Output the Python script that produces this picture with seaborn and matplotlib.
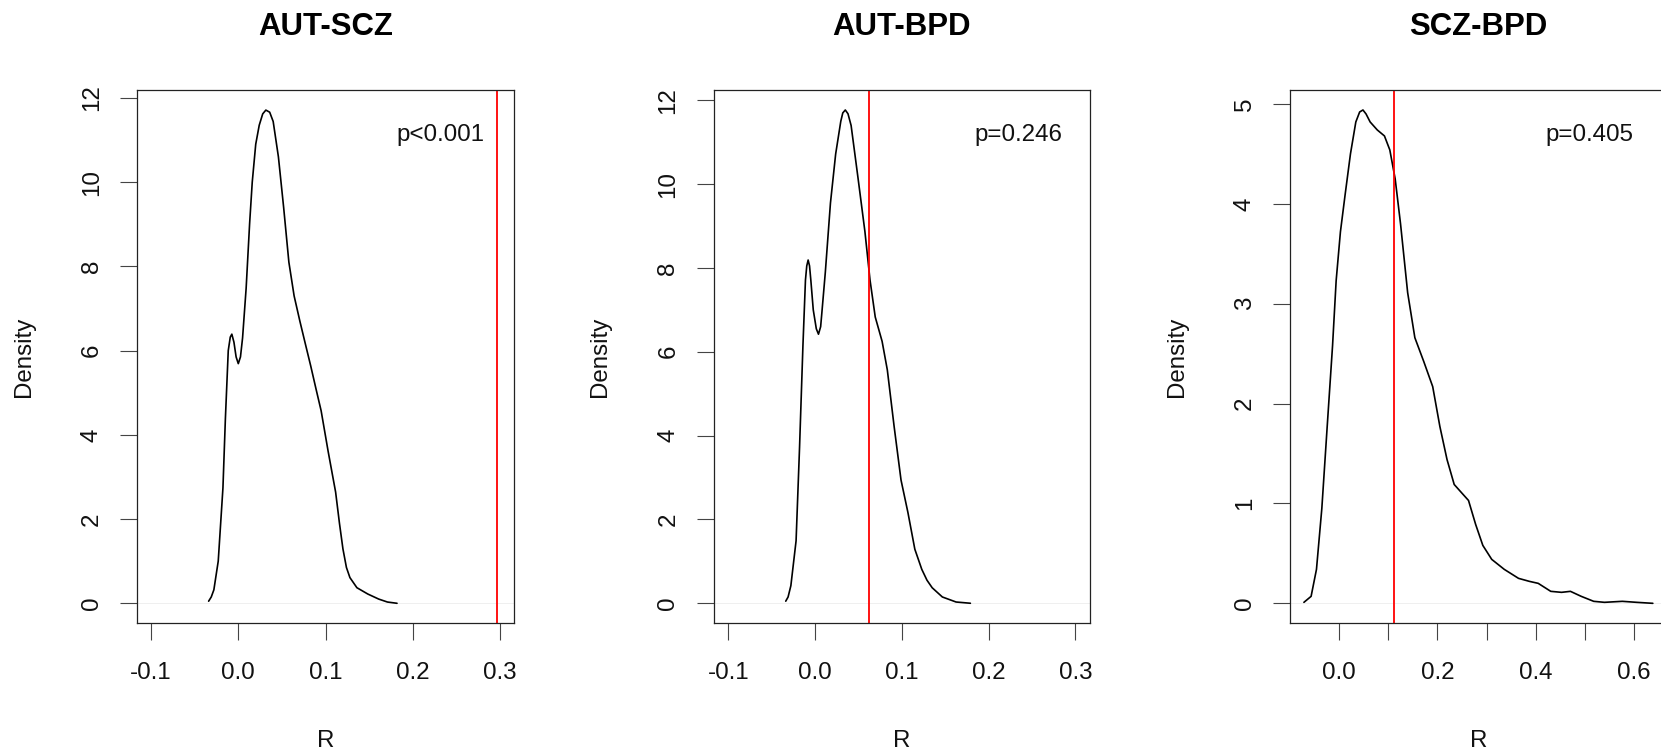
import matplotlib
matplotlib.use("Agg")
import matplotlib.pyplot as plt
import seaborn as sns
import pandas as pd

# ---------------- data ----------------
titles = ["AUT-SCZ", "AUT-BPD", "SCZ-BPD"]
p_labels = ["p<0.001", "p=0.246", "p=0.405"]
observed_r = [0.297, 0.0622, 0.1118]

aut_scz_x = [-0.034, -0.031, -0.028, -0.023, -0.0176, -0.0148, -0.0115, -0.0092, -0.0074,
             -0.005, -0.0025, 0.0, 0.0025, 0.0049, 0.009, 0.013, 0.016, 0.020, 0.024,
             0.028, 0.0316, 0.036, 0.040, 0.046, 0.052, 0.058, 0.064, 0.0706, 0.077,
             0.083, 0.089, 0.095, 0.103, 0.1116, 0.116, 0.12, 0.124, 0.128, 0.136,
             0.1485, 0.161, 0.171, 0.182]
aut_scz_y = [0.05, 0.15, 0.32, 1.0, 2.74, 4.38, 6.0, 6.32, 6.39,
             6.2, 5.85, 5.69, 5.85, 6.3, 7.48, 9.02, 10.0, 10.9, 11.35,
             11.62, 11.71, 11.66, 11.44, 10.6, 9.4, 8.1, 7.3, 6.70, 6.15,
             5.64, 5.1, 4.57, 3.61, 2.64, 1.9, 1.29, 0.85, 0.61, 0.37,
             0.22, 0.10, 0.03, 0.0]

aut_bpd_x = [-0.0337, -0.031, -0.0278, -0.0218, -0.0178, -0.0139, -0.011, -0.0095, -0.0079,
             -0.0063, -0.0048, -0.002, 0.0015, 0.004, 0.0065, 0.0079, 0.0119, 0.0178,
             0.0238, 0.0297, 0.032, 0.0349, 0.038, 0.0416, 0.0496, 0.0575, 0.0634,
             0.0694, 0.0773, 0.0833, 0.0912, 0.0991, 0.107, 0.115, 0.123, 0.129,
             0.135, 0.1467, 0.1625, 0.179]
aut_bpd_y = [0.05, 0.15, 0.42, 1.49, 3.72, 6.15, 7.71, 8.05, 8.19,
             8.05, 7.71, 7.0, 6.55, 6.42, 6.6, 6.93, 7.9, 9.55,
             10.72, 11.5, 11.7, 11.77, 11.68, 11.4, 10.14, 8.87, 7.71,
             6.83, 6.25, 5.57, 4.21, 2.94, 2.17, 1.29, 0.81, 0.55,
             0.37, 0.15, 0.03, 0.0]

scz_bpd_x = [-0.0713, -0.0567, -0.0458, -0.0349, -0.024, -0.0131, -0.0058, 0.0029, 0.0124,
             0.0233, 0.0342, 0.042, 0.0487, 0.055, 0.0633, 0.0778, 0.0924, 0.1033, 0.1142,
             0.1251, 0.1396, 0.1542, 0.1724, 0.1905, 0.2051, 0.2196, 0.2342, 0.2487,
             0.2633, 0.2778, 0.2924, 0.3105, 0.336, 0.365, 0.387, 0.405, 0.4305, 0.4524,
             0.4705, 0.4924, 0.5178, 0.5396, 0.576, 0.605, 0.638]
scz_bpd_y = [0.01, 0.07, 0.34, 0.95, 1.77, 2.58, 3.23, 3.72, 4.09,
             4.50, 4.82, 4.92, 4.94, 4.90, 4.82, 4.74, 4.68, 4.54, 4.25,
             3.80, 3.11, 2.66, 2.42, 2.17, 1.77, 1.44, 1.19, 1.11,
             1.03, 0.79, 0.58, 0.44, 0.34, 0.25, 0.22, 0.20, 0.12, 0.11,
             0.12, 0.07, 0.02, 0.01, 0.02, 0.01, 0.0]

curves = [(aut_scz_x, aut_scz_y), (aut_bpd_x, aut_bpd_y), (scz_bpd_x, scz_bpd_y)]

x_ticks = [[-0.1, 0.0, 0.1, 0.2, 0.3], [-0.1, 0.0, 0.1, 0.2, 0.3],
           [0.0, 0.1, 0.2, 0.3, 0.4, 0.5, 0.6]]
x_ticklabels = [["-0.1", "0.0", "0.1", "0.2", "0.3"], ["-0.1", "0.0", "0.1", "0.2", "0.3"],
                ["0.0", "", "0.2", "", "0.4", "", "0.6"]]
y_ticks = [[0, 2, 4, 6, 8, 10, 12], [0, 2, 4, 6, 8, 10, 12], [0, 1, 2, 3, 4, 5]]

# ---------------- layout ----------------
sns.set_style("white")
plt.rcParams["font.family"] = ["Liberation Sans", "DejaVu Sans"]

W, H = 1661, 752
fig = plt.figure(figsize=(W / 100, H / 100), dpi=100)

frames = [(137.3, 513.7), (713.7, 1090.0), (1290.3, 1666.6)]
top_px, bot_px = 90.3, 623.0
xlims = [(-0.1158, 0.3158), (-0.1167, 0.3168), (-0.099, 0.666)]
ylims = [(-0.468, 12.18), (-0.471, 12.24), (-0.197, 5.137)]
p_right_px = [484.3, 1062.5, 1633.3]

tick_fs = 17.4
for i in range(3):
    l, r = frames[i]
    ax = fig.add_axes([l / W, (H - bot_px) / H, (r - l) / W, (bot_px - top_px) / H])
    ax.set_facecolor("white")
    df = pd.DataFrame({"R": curves[i][0], "Density": curves[i][1]})
    ax.axhline(0, color="#ececec", lw=0.6, zorder=0)
    sns.lineplot(data=df, x="R", y="Density", ax=ax, color="black", lw=1.2,
                 sort=False, estimator=None)
    ax.axvline(observed_r[i], color="#ff0000", lw=1.3)
    ax.set_xlim(*xlims[i])
    ax.set_ylim(*ylims[i])
    ax.set_xticks(x_ticks[i])
    ax.set_xticklabels(x_ticklabels[i])
    ax.set_yticks(y_ticks[i])
    ax.set_yticklabels([str(v) for v in y_ticks[i]])
    ax.tick_params(axis="both", direction="out", length=12.2, width=0.8,
                   color="#444444", labelsize=tick_fs, labelcolor="#111111")
    ax.tick_params(axis="x", pad=16.0, bottom=True)
    ax.tick_params(axis="y", pad=12.5, left=True, labelrotation=90)
    plt.setp(ax.get_yticklabels(), va="center", ha="right")
    for sp in ax.spines.values():
        sp.set_visible(True)
        sp.set_color("#222222")
        sp.set_linewidth(0.9)
    ax.set_xlabel("R", fontsize=tick_fs, color="#111111")
    ax.set_ylabel("Density", fontsize=tick_fs, color="#111111")
    ax.xaxis.set_label_coords(0.5, -0.200)
    ax.yaxis.set_label_coords((35 - 137.3) / 376.4, 0.5)
    ax.text(0.5, (bot_px - 35) / (bot_px - top_px), titles[i], transform=ax.transAxes,
            ha="center", va="baseline", fontsize=22.4, fontweight="bold", color="black")
    ax.text((p_right_px[i] - l) / (r - l), (bot_px - 141.5) / (bot_px - top_px), p_labels[i],
            transform=ax.transAxes, ha="right", va="baseline", fontsize=tick_fs,
            color="#111111")

fig.savefig("out.png", dpi=100, facecolor="white")
